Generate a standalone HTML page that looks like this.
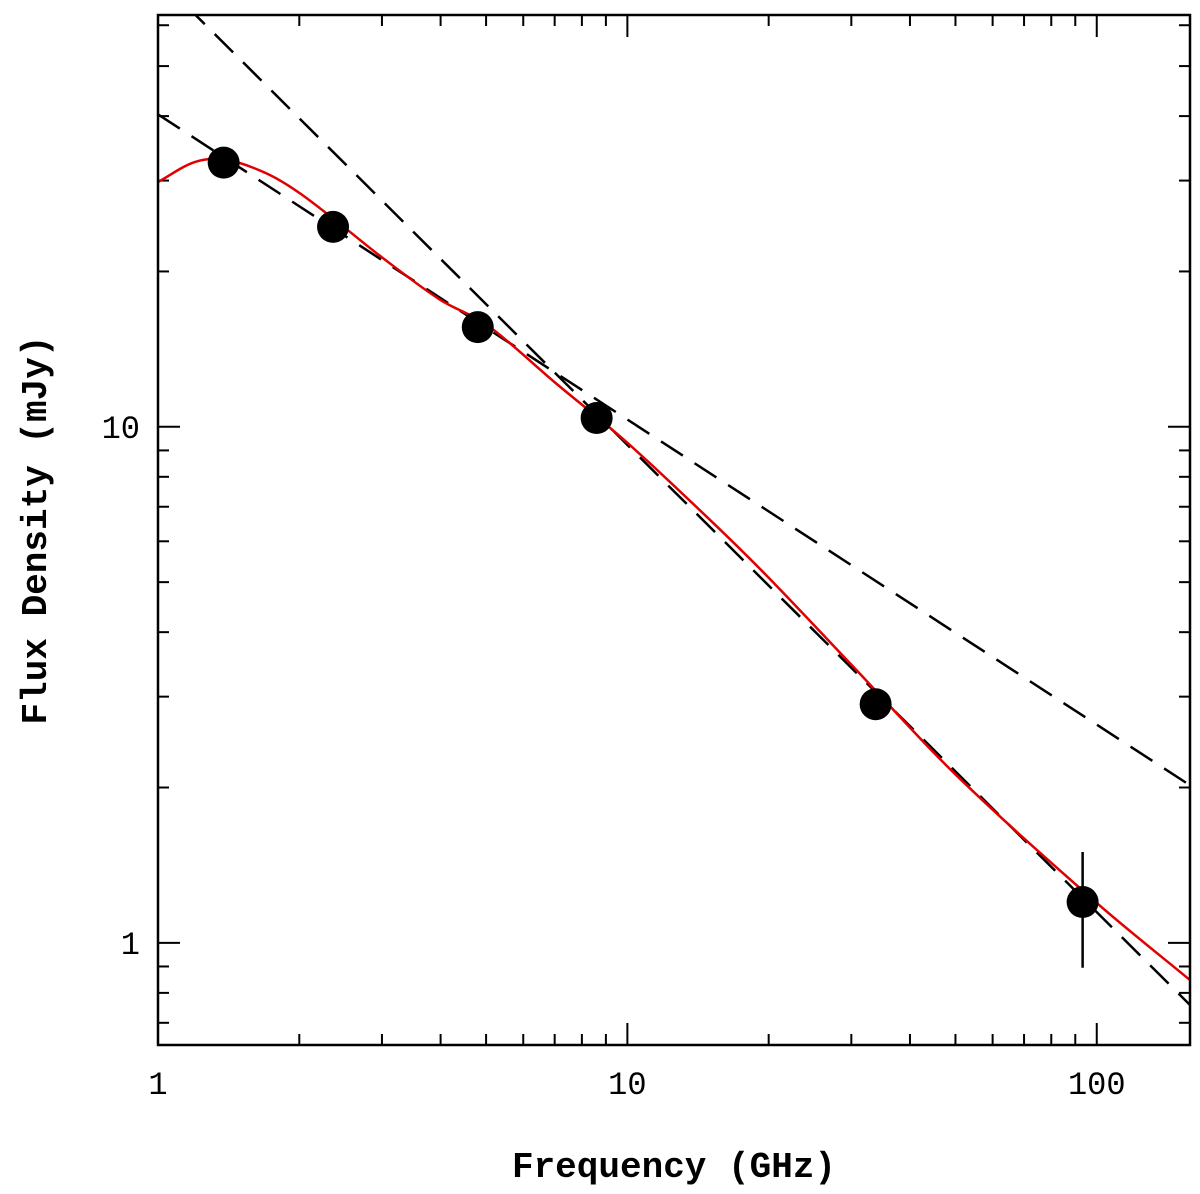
<!DOCTYPE html>
<html><head><meta charset="utf-8"><style>
body{margin:0;background:#fff}
svg text{font-family:"Liberation Mono","DejaVu Sans Mono",monospace;fill:#000}
</style></head><body>
<svg id="chart" width="1200" height="1189" xmlns="http://www.w3.org/2000/svg"></svg>
<script>
const freqs=[1.38,2.36,4.8,8.6,33.8,93.3];
const fluxes=[32.5,24.4,15.6,10.4,2.90,1.20];
const errLo=[null,null,null,null,null,0.895];
const errHi=[null,null,null,null,null,1.50];
const modelNu=[1,1.2,1.4,1.7,2,2.5,3,4,5,7,10,15,20,30,50,100,158];
const modelS=[29.8,32.6,32.9,31.0,28.4,24.3,21.3,17.6,15.8,12.2,9.31,6.60,5.10,3.46,2.12,1.195,0.847];
const line1Nu=[1,158];const line1S=[74.2,0.758];
const line2Nu=[1,158];const line2S=[40.3,2.02];
const xTicks=[1,10,100];const xTickLabels=["1","10","100"];
const yTicks=[1,10];const yTickLabels=["1","10"];

const L=158,R=1190,T=15,B=1045;
const xMin=0,xMax=Math.log10(158),yMin=Math.log10(0.634),yMax=Math.log10(62.8);
const X=v=>L+(Math.log10(v)-xMin)/(xMax-xMin)*(R-L);
const Y=v=>B-(Math.log10(v)-yMin)/(yMax-yMin)*(B-T);
const svg=document.getElementById('chart');
const NS='http://www.w3.org/2000/svg';
function mk(t,a){const e=document.createElementNS(NS,t);for(const k in a)e.setAttribute(k,a[k]);svg.appendChild(e);return e;}

const defs=mk('clipPath',{id:'clip'});
const cr=document.createElementNS(NS,'rect');cr.setAttribute('x',L);cr.setAttribute('y',T);cr.setAttribute('width',R-L);cr.setAttribute('height',B-T);defs.appendChild(cr);

for(let d=0;d<=2;d++)for(let m=1;m<=9;m++){const v=m*Math.pow(10,d);if(v>158)continue;const x=X(v);const len=m==1?22:11;
 let t=mk('line',{x1:x,y1:B,x2:x,y2:B-len,stroke:'#000','stroke-width':2});
 
 t=mk('line',{x1:x,y1:T,x2:x,y2:T+len,stroke:'#000','stroke-width':2});
 }
for(let d=-1;d<=1;d++)for(let m=1;m<=9;m++){const v=m*Math.pow(10,d);if(v<0.634||v>62.8)continue;const y=Y(v);const len=m==1?22:11;
 let t=mk('line',{x1:L,y1:y,x2:L+len,y2:y,stroke:'#000','stroke-width':2});
 
 t=mk('line',{x1:R,y1:y,x2:R-len,y2:y,stroke:'#000','stroke-width':2});
 }
xTicks.forEach((v,i)=>{const t=mk('text',{x:X(v),y:1094,'font-size':32,'text-anchor':'middle'});t.textContent=xTickLabels[i];
 });
yTicks.forEach((v,i)=>{const t=mk('text',{x:140,y:Y(v)+11,'font-size':32,'text-anchor':'end'});t.textContent=yTickLabels[i];
 });

[[line1Nu,line1S,'powerlaw-fit-steep'],[line2Nu,line2S,'powerlaw-fit-shallow']].forEach(([n,s,name])=>{
 const l=mk('line',{x1:X(n[0]),y1:Y(s[0]),x2:X(n[1]),y2:Y(s[1]),stroke:'#000','stroke-width':2.5,'stroke-dasharray':'26,14','clip-path':'url(#clip)'});
 });

const pts=modelNu.map((n,i)=>[X(n),Y(modelS[i])]);
let d='M'+pts[0][0]+','+pts[0][1];
for(let i=0;i<pts.length-1;i++){const p0=pts[i-1]||pts[i],p1=pts[i],p2=pts[i+1],p3=pts[i+2]||p2;
 const d1=Math.hypot(p2[0]-p0[0],p2[1]-p0[1])||1,d2=Math.hypot(p3[0]-p1[0],p3[1]-p1[1])||1,seg=Math.hypot(p2[0]-p1[0],p2[1]-p1[1]);
 const k1=seg/d1/3,k2=seg/d2/3;
 d+=` C${p1[0]+(p2[0]-p0[0])*k1},${p1[1]+(p2[1]-p0[1])*k1} ${p2[0]-(p3[0]-p1[0])*k2},${p2[1]-(p3[1]-p1[1])*k2} ${p2[0]},${p2[1]}`;}
const c=mk('path',{d:d,fill:'none',stroke:'#e00000','stroke-width':2.5,'clip-path':'url(#clip)'});


freqs.forEach((f,i)=>{
 if(errLo[i]!=null){const e=mk('line',{x1:X(f),y1:Y(errLo[i]),x2:X(f),y2:Y(errHi[i]),stroke:'#000','stroke-width':2.5});
  }
 const p=mk('circle',{cx:X(f),cy:Y(fluxes[i]),r:16,fill:'#000'});
 });

const fr=mk('rect',{x:L,y:T,width:R-L,height:B-T,fill:'none',stroke:'#000','stroke-width':2.5});

const xl=mk('text',{x:674,y:1177,'font-size':36,'font-weight':'bold','text-anchor':'middle'});xl.textContent='Frequency (GHz)';

const yl=mk('text',{x:0,y:0,'font-size':36,'font-weight':'bold','text-anchor':'middle',transform:'translate(46,530) rotate(-90)'});yl.textContent='Flux Density (mJy)';

</script>
</body></html>
